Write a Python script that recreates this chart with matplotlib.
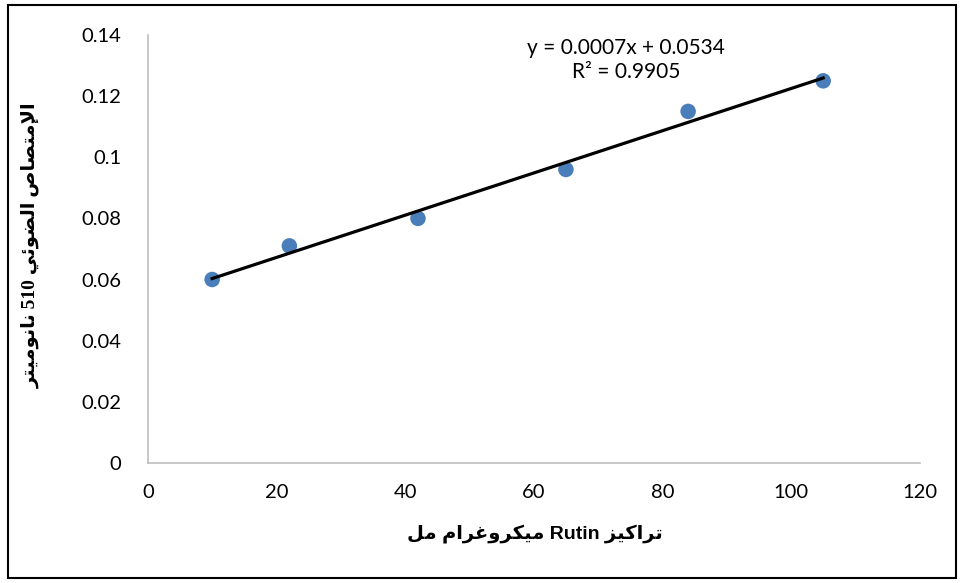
import matplotlib
matplotlib.use("Agg")
import matplotlib.pyplot as plt
import numpy as np
from matplotlib.patches import Rectangle

# data
conc = [10, 22, 42, 65, 84, 105]
absorb = [0.060, 0.071, 0.080, 0.096, 0.115, 0.125]
x_ticks = [0, 20, 40, 60, 80, 100, 120]
y_ticks = [0, 0.02, 0.04, 0.06, 0.08, 0.1, 0.12, 0.14]
y_tick_labels = ["0", "0.02", "0.04", "0.06", "0.08", "0.1", "0.12", "0.14"]
x_label = "تراكيز Rutin ميكروغرام مل"
y_label = "الإمتصاص الضوئي 510 نانوميتر"
eq_text = "y = 0.0007x + 0.0534\nR² = 0.9905"

# minimal arabic shaping (matplotlib has no complex text layout)
# letter: (isolated, final, initial, medial); None -> does not join next
FORMS = {
    "ا": ("\uFE8D", "\uFE8E", None, None),
    "إ": ("\uFE87", "\uFE88", None, None),
    "ت": ("\uFE95", "\uFE96", "\uFE97", "\uFE98"),
    "ر": ("\uFEAD", "\uFEAE", None, None),
    "ز": ("\uFEAF", "\uFEB0", None, None),
    "ك": ("\uFED9", "\uFEDA", "\uFEDB", "\uFEDC"),
    "ي": ("\uFEF1", "\uFEF2", "\uFEF3", "\uFEF4"),
    "م": ("\uFEE1", "\uFEE2", "\uFEE3", "\uFEE4"),
    "و": ("\uFEED", "\uFEEE", None, None),
    "غ": ("\uFECD", "\uFECE", "\uFECF", "\uFED0"),
    "ل": ("\uFEDD", "\uFEDE", "\uFEDF", "\uFEE0"),
    "ص": ("\uFEB9", "\uFEBA", "\uFEBB", "\uFEBC"),
    "ض": ("\uFEBD", "\uFEBE", "\uFEBF", "\uFEC0"),
    "ئ": ("\uFE89", "\uFE8A", "\uFE8B", "\uFE8C"),
    "ن": ("\uFEE5", "\uFEE6", "\uFEE7", "\uFEE8"),
    "لا": ("\uFEFB", "\uFEFC", None, None),
    "لإ": ("\uFEF9", "\uFEFA", None, None),
}


def shape_word(word):
    letters = []
    i = 0
    while i < len(word):
        if word[i] == "ل" and i + 1 < len(word) and word[i:i + 2] in FORMS:
            letters.append(word[i:i + 2])
            i += 2
        else:
            letters.append(word[i])
            i += 1
    out = []
    for k, ch in enumerate(letters):
        f = FORMS[ch]
        prev_joins = k > 0 and FORMS[letters[k - 1]][2] is not None
        next_joins = k < len(letters) - 1 and f[2] is not None
        if prev_joins and next_joins:
            out.append(f[3])
        elif prev_joins:
            out.append(f[1])
        elif next_joins:
            out.append(f[2])
        else:
            out.append(f[0])
    return "".join(reversed(out))


def rtl(text):
    words = []
    for w in text.split(" "):
        if any(c in FORMS for c in w):
            words.append(shape_word(w))
        else:
            words.append(w)
    return " ".join(reversed(words))


slope, intercept = np.polyfit(conc, absorb, 1)
fit_x = np.array([min(conc), max(conc)])
fit_y = slope * fit_x + intercept

fig = plt.figure(figsize=(9.6, 5.83), dpi=100)
ax = fig.add_axes([0.154, 0.206, 0.804, 0.734])

ax.scatter(conc, absorb, s=125, color="#4A7EBB", zorder=3, edgecolors="none")
ax.plot(fit_x, fit_y, color="black", linewidth=2.3, zorder=4)

ax.set_xlim(0, 120)
ax.set_ylim(0, 0.14)
ax.set_xticks(x_ticks)
ax.set_yticks(y_ticks)
ax.set_yticklabels(y_tick_labels)
for lab in ax.get_xticklabels() + ax.get_yticklabels():
    lab.set_family("Lato")
    lab.set_fontsize(14.5)
ax.tick_params(axis="both", length=0, colors="black")
ax.tick_params(axis="y", pad=19)
ax.tick_params(axis="x", pad=15)

for side in ["top", "right"]:
    ax.spines[side].set_visible(False)
for side in ["left", "bottom"]:
    ax.spines[side].set_color("#BFBFBF")
    ax.spines[side].set_linewidth(1.2)

fig.text(0.652, 0.897, eq_text, ha="center", va="center", fontsize=15,
         family="Lato", linespacing=1.25)

fig.text(0.557, 0.085, rtl(x_label), ha="center", va="center", fontsize=14,
         fontweight="bold", family=["Liberation Sans", "DejaVu Sans"])
fig.text(0.032, 0.58, rtl(y_label), ha="center", va="center", fontsize=14,
         fontweight="bold", rotation=90, family=["Liberation Serif", "DejaVu Sans"])

fig.patches.append(Rectangle((0.008, 0.009), 0.988, 0.982, transform=fig.transFigure,
                             fill=False, edgecolor="black", linewidth=1.5))

fig.savefig("out.png", dpi=100)
plt.close(fig)
